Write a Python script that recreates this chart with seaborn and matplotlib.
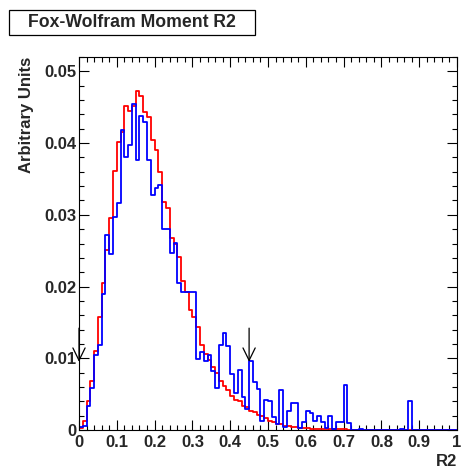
import numpy as np
import pandas as pd
import matplotlib
matplotlib.use("Agg")
import matplotlib.pyplot as plt
from matplotlib.patches import Rectangle
import seaborn as sns

# ---------------- data ----------------
bin_edges = [i / 100 for i in range(101)]
red_values = [
    0.0003, 0.0013, 0.0041, 0.0068, 0.0110, 0.0158, 0.0205, 0.0251, 0.0295, 0.0361,
    0.0402, 0.0416, 0.0452, 0.0445, 0.0452, 0.0473, 0.0466, 0.0444, 0.0436, 0.0404,
    0.0390, 0.0359, 0.0318, 0.0309, 0.0268, 0.0259, 0.0241, 0.0208, 0.0192, 0.0167,
    0.0157, 0.0143, 0.0118, 0.0106, 0.0097, 0.0088, 0.0079, 0.0069, 0.0062, 0.0056,
    0.0048, 0.0042, 0.0040, 0.0034, 0.0032, 0.0027, 0.0025, 0.0021, 0.0019, 0.0017,
    0.0013, 0.0011, 0.0009, 0.0008, 0.0006, 0.0005, 0.0004, 0.0004, 0.0003, 0.0003,
    0.0003, 0.0002, 0.0002, 0.0002, 0.00015, 0.00015, 0.0001, 0.0001, 0.0001, 0.0001,
    0.00008, 0.00006, 0.00005, 0.00004, 0.00003, 0.00002, 0.00002, 0.00002, 0.00002, 0.00002,
    0, 0, 0, 0, 0, 0, 0, 0, 0, 0,
    0, 0, 0, 0, 0, 0, 0, 0, 0, 0,
]
blue_values = [
    0.0004, 0.0006, 0.0033, 0.0059, 0.0104, 0.0119, 0.0190, 0.0272, 0.0246, 0.0297,
    0.0317, 0.0418, 0.0380, 0.0397, 0.0455, 0.0377, 0.0438, 0.0430, 0.0376, 0.0328,
    0.0337, 0.0342, 0.0280, 0.0280, 0.0247, 0.0260, 0.0205, 0.0192, 0.0192, 0.0192,
    0.0192, 0.0099, 0.0109, 0.0096, 0.0104, 0.0082, 0.0059, 0.0118, 0.0135, 0.0117,
    0.0078, 0.0051, 0.0083, 0.0046, 0.0029, 0.0096, 0.0067, 0.0057, 0.0012, 0.0042,
    0.0040, 0.0018, 0.0009, 0.0056, 0.0004, 0.0026, 0.0038, 0.0038, 0.0003, 0.0011,
    0.0026, 0.0024, 0.0013, 0.0020, 0.0011, 0.0003, 0.0019, 0.0001, 0.0011, 0.0011,
    0.0063, 0.0010, 0, 0, 0.0001, 0, 0, 0, 0, 0,
    0, 0, 0, 0, 0, 0.0001, 0, 0.0041, 0, 0,
    0, 0, 0, 0, 0, 0, 0, 0, 0, 0,
]
x_ticks = [0, 0.1, 0.2, 0.3, 0.4, 0.5, 0.6, 0.7, 0.8, 0.9, 1.0]
x_tick_labels = ["0", "0.1", "0.2", "0.3", "0.4", "0.5", "0.6", "0.7", "0.8", "0.9", "1"]
y_ticks = [0, 0.01, 0.02, 0.03, 0.04, 0.05]
y_tick_labels = ["0", "0.01", "0.02", "0.03", "0.04", "0.05"]
arrow_positions = [0.0, 0.45]
title_text = "Fox-Wolfram Moment R2"
x_label = "R2"
y_label = "Arbitrary Units"

# ---------------- style ----------------
sns.set_style("ticks")
plt.rcParams["font.family"] = ["Liberation Sans", "DejaVu Sans"]
plt.rcParams["font.weight"] = "bold"

W, H = 463, 471
fig = plt.figure(figsize=(W / 100, H / 100), dpi=100)
fig.patch.set_facecolor("white")
ax = fig.add_axes([79 / W, 41 / H, 378 / W, 373 / H])
ax.set_facecolor("white")

centers = [(bin_edges[i] + bin_edges[i + 1]) / 2 for i in range(len(bin_edges) - 1)]
df = pd.DataFrame({"x": centers, "red": red_values, "blue": blue_values})

sns.histplot(data=df, x="x", weights="red", bins=bin_edges, element="step",
             fill=False, color="#ff0000", linewidth=1.3, ax=ax)
sns.histplot(data=df, x="x", weights="blue", bins=bin_edges, element="step",
             fill=False, color="#0000ff", linewidth=1.3, ax=ax)

ax.set_xlim(0, 1)
ax.set_ylim(0, 0.0520)

ax.set_xticks(x_ticks)
ax.set_xticklabels(x_tick_labels)
ax.set_xticks(np.arange(0, 1.0001, 0.02), minor=True)
ax.set_yticks(y_ticks)
ax.set_yticklabels(y_tick_labels)
ax.set_yticks(np.arange(0, 0.0521, 0.002), minor=True)

ax.tick_params(axis="both", which="both", direction="in", top=True, right=True,
               width=0.8, color="black", labelsize=12)
ax.tick_params(axis="both", which="major", length=7.5)
ax.tick_params(axis="both", which="minor", length=3.8)
ax.tick_params(axis="x", which="major", pad=3.5)
ax.tick_params(axis="y", which="major", pad=1.8)
for lab in ax.get_xticklabels() + ax.get_yticklabels():
    lab.set_fontweight("bold")
for sp in ax.spines.values():
    sp.set_linewidth(0.8)
    sp.set_color("black")
    sp.set_visible(True)

ax.set_xlabel("")
ax.set_ylabel("")
fig.text(457 / W, 1 - 462 / H, x_label, ha="right", va="center",
         fontsize=12, fontweight="bold")
fig.text(26 / W, 1 - 57 / H, y_label, ha="center", va="top", rotation=90,
         fontsize=12, fontweight="bold")

# arrows
for xa in arrow_positions:
    ax.annotate("", xy=(xa, 0.0095), xytext=(xa, 0.0142),
                arrowprops=dict(arrowstyle="->,head_length=0.45,head_width=0.22",
                                color="black", lw=0.9, mutation_scale=20,
                                shrinkA=0, shrinkB=0),
                annotation_clip=False)

# title box
fig.patches.append(Rectangle((9 / W, 1 - 35 / H), 246 / W, 25 / H,
                             transform=fig.transFigure, facecolor="white",
                             edgecolor="black", linewidth=0.9))
fig.text(132 / W, 1 - 22.5 / H, title_text, ha="center", va="center",
         fontsize=12.7, fontweight="bold")

fig.savefig("out.png", dpi=100, facecolor="white")
